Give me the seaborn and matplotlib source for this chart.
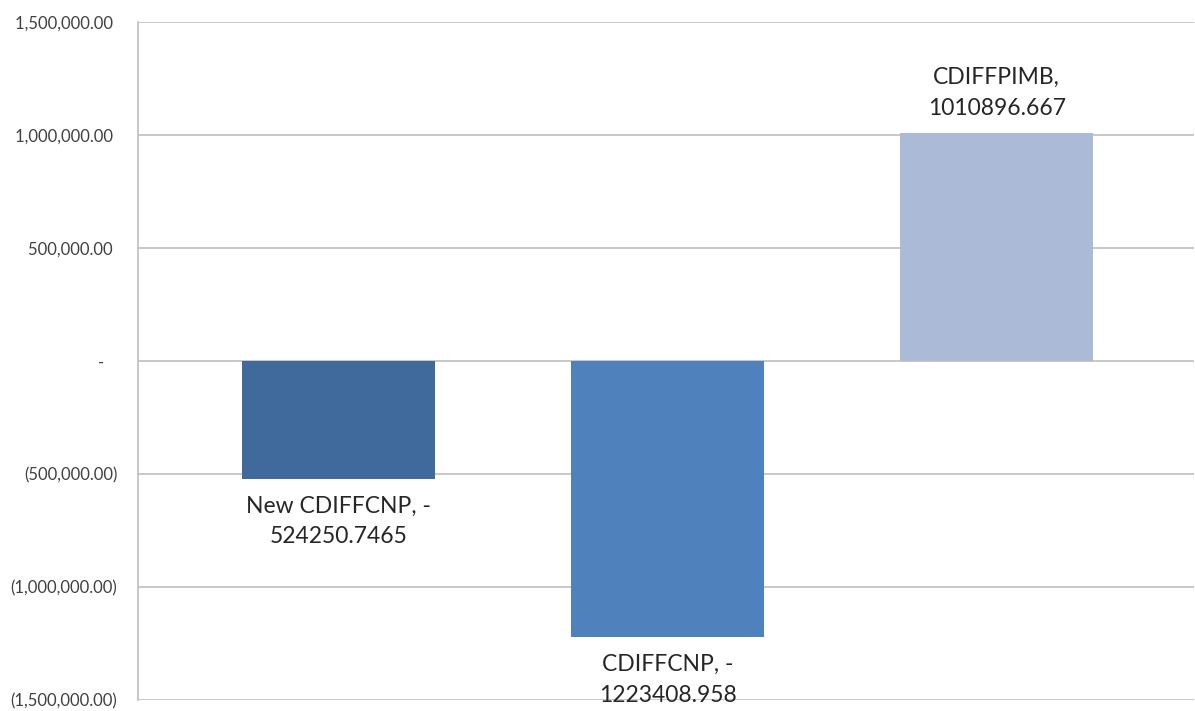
import matplotlib
matplotlib.use("Agg")
import matplotlib.pyplot as plt
import matplotlib.ticker as mticker
import seaborn as sns
import pandas as pd

categories = ["New CDIFFCNP", "CDIFFCNP", "CDIFFPIMB"]
values = [-524250.7465, -1223408.958, 1010896.667]
value_labels = ["-524250.7465", "-1223408.958", "1010896.667"]
colors = ["#3F6A9B", "#4F81BD", "#AABAD7"]
y_ticks = [-1500000, -1000000, -500000, 0, 500000, 1000000, 1500000]

df = pd.DataFrame({"category": categories, "value": values})

sns.set_theme(style="white")
plt.rcParams["font.family"] = ["Lato", "DejaVu Sans"]

fig = plt.figure(figsize=(11.95, 7.11), dpi=100)
ax = fig.add_axes([138 / 1195, 11 / 711, (1194 - 138) / 1195, (700 - 22) / 711])

sns.barplot(data=df, x="category", y="value", hue="category",
            palette=colors, width=0.586, legend=False, ax=ax,
            saturation=1, edgecolor="none")

ax.set_xlim(-0.61, 2.6)
ax.set_ylim(y_ticks[0], y_ticks[-1])
ax.set_yticks(y_ticks)


def acct(v, pos):
    if v == 0:
        return "-   "
    s = f"{abs(v):,.2f}"
    return f"({s})" if v < 0 else f"{s} "


ax.yaxis.set_major_formatter(mticker.FuncFormatter(acct))
ax.tick_params(axis="y", labelsize=12, labelcolor="#404040", length=0, pad=15)
ax.set_xticks([])
ax.set_xlabel("")
ax.set_ylabel("")
ax.grid(axis="y", color="#BFBFBF", linewidth=1.2)
ax.set_axisbelow(True)
for side in ["top", "right", "bottom"]:
    ax.spines[side].set_visible(False)
ax.spines["left"].set_color("#BFBFBF")
ax.spines["left"].set_linewidth(1.2)

for i, (cat, v, lab) in enumerate(zip(categories, values, value_labels)):
    if v < 0:
        text = f"{cat}, -\n{lab.lstrip('-')}"
        ax.annotate(text, (i, v), xytext=(0, -12), textcoords="offset points",
                    ha="center", va="top", fontsize=16.5, color="#262626",
                    linespacing=1.55)
    else:
        text = f"{cat},\n{lab}"
        ax.annotate(text, (i, v), xytext=(0, 10), textcoords="offset points",
                    ha="center", va="bottom", fontsize=16.5, color="#262626",
                    linespacing=1.55)

fig.savefig("out.png", dpi=100, facecolor="white")
